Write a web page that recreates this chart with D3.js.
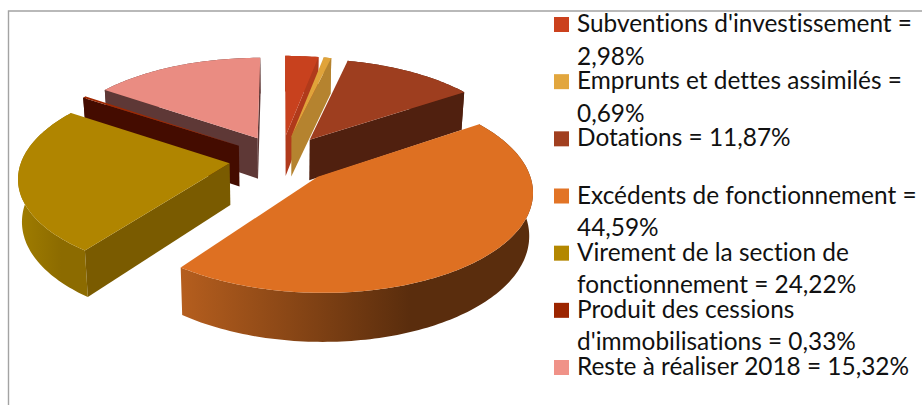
<!DOCTYPE html>
<html><head><meta charset="utf-8">
<script src="https://cdn.jsdelivr.net/npm/d3@7"></script>
<style>html,body{margin:0;padding:0;background:#fff}svg{display:block}text{font-family:Lato,sans-serif;fill:#111;font-variant-ligatures:none}</style>
</head><body><div id="c"></div>
<script>
const categories = ["Subventions d'investissement","Emprunts et dettes assimilés","Dotations","Excédents de fonctionnement","Virement de la section de fonctionnement","Produit des cessions d'immobilisations","Reste à réaliser 2018"];
const values = [2.98,0.69,11.87,44.59,24.22,0.33,15.32];
const legendFirst = ["Subventions d'investissement =","Emprunts et dettes assimilés =","Dotations = 11,87%","Excédents de fonctionnement =","Virement de la section de","Produit des cessions","Reste à réaliser 2018 = 15,32%"];
const legendSecond = ["2,98%","0,69%","","44,59%","fonctionnement = 24,22%","d'immobilisations = 0,33%",""];
const swatchColors = ["#CB411D","#E2A63D","#A13F1F","#E27426","#B38700","#9C2500","#F09288"];
const topColors = ["#C8411E","#E0A33A","#9E3E1F","#DE7022","#B08500","#A02800","#EA8C82"];
const cutColors = ["#B03A1B","#B5832F","#50200F","#5A2D0D","#7A5B00","#440C00","#5E3836"];
const wallLeft = ["#B03A1B","#B5832F","#50200F","#B55E1E","#A07D00","#440C00","#5E3836"];
const wallRight = ["#B03A1B","#B5832F","#50200F","#5A2D0D","#8C6B00","#440C00","#5E3836"];

const W=922,H=405;
const svg=d3.select("#c").append("svg").attr("width",W).attr("height",H);
const defs=svg.append("defs");
svg.append("path").attr("d",`M${W},11H8.5V${H}`).attr("fill","none").attr("stroke","#A3A3A3").attr("stroke-width",1.4);

// projection of the exploded disc
const cx=281,cy=159,rx=207.6,ry=96,persp=0.13,depth=41.5,bottomShrink=0.985,explode=0.25;
const xS=d3.scaleLinear().domain([-1,1]).range([cx-rx,cx+rx]);
const yS=d3.scaleLinear().domain([-1,1]).range([cy-ry,cy+ry]);
const project=(X,Z,low)=>{
  const s=1/(1-persp*Z), t=low?bottomShrink:1;
  return [xS(X*s*t), yS(Z*s)+(low?depth*s:0)];
};
const line=d3.line();
const slices=d3.pie().sort(null).value(d=>d)(values).map((p,i)=>{
  const mid=(p.startAngle+p.endAngle)/2;
  return {...p,i,ox:explode*Math.sin(mid),oz:-explode*Math.cos(mid)};
}).sort((a,b)=>a.oz-b.oz);

const area=pts=>d3.polygonArea(pts);
slices.forEach(d=>{
  const g=svg.append("g");
  const rim=low=>{
    const n=Math.max(4,Math.ceil((d.endAngle-d.startAngle)/0.02));
    return d3.range(n+1).map(k=>{
      const a=d.startAngle+(d.endAngle-d.startAngle)*k/n;
      return project(d.ox+Math.sin(a),d.oz-Math.cos(a),low);
    });
  };
  const apexT=project(d.ox,d.oz,false),apexB=project(d.ox,d.oz,true);
  const rT=rim(false),rB=rim(true);
  // outer wall
  const xs=rT.map(p=>p[0]);
  const x0=d3.min(xs),x1=d3.max(xs);
  const id="w"+d.i;
  const gr=defs.append("linearGradient").attr("id",id).attr("gradientUnits","userSpaceOnUse")
    .attr("x1",x0).attr("x2",x0+(x1-x0)*0.65).attr("y1",0).attr("y2",0);
  gr.append("stop").attr("offset",0).attr("stop-color",wallLeft[d.i]);
  gr.append("stop").attr("offset",1).attr("stop-color",wallRight[d.i]);
  g.append("path").attr("d",line(rT.concat(rB.slice().reverse()))+"Z").attr("fill",`url(#${id})`);
  // cut faces which look at the viewer
  const cutA=[apexT,rT[0],rB[0],apexB];
  const cutB=[apexT,rT[rT.length-1],rB[rB.length-1],apexB];
  if(area(cutA)>0) g.append("path").attr("d",line(cutA)+"Z").attr("fill",cutColors[d.i]);
  if(area(cutB)<0) g.append("path").attr("d",line(cutB)+"Z").attr("fill",cutColors[d.i]);
  // top
  g.append("path").attr("d",line([apexT].concat(rT))+"Z").attr("fill",topColors[d.i]);
});

// legend
const yL=d3.scalePoint().domain(categories).range([32,375]);
const lg=svg.append("g").selectAll("g").data(categories).join("g");
lg.append("rect").attr("x",554).attr("y",d=>yL(d)-15).attr("width",15).attr("height",15).attr("fill",(d,i)=>swatchColors[i]);
lg.append("text").attr("x",577).attr("y",d=>yL(d)).attr("font-size",24.4).text((d,i)=>legendFirst[i]);
lg.append("text").attr("x",577).attr("y",d=>yL(d)+32.5).attr("font-size",24.4).text((d,i)=>legendSecond[i]);
</script></body></html>
